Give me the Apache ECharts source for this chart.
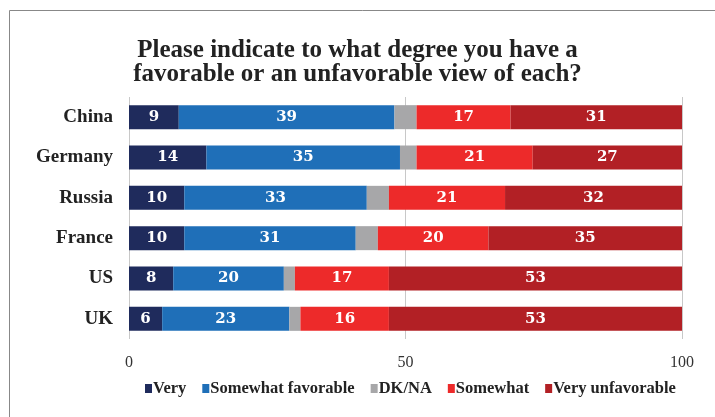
<!DOCTYPE html>
<html><head><meta charset="utf-8">
<script src="https://cdn.jsdelivr.net/npm/echarts@6/dist/echarts.min.js"></script>
<style>html,body{margin:0;padding:0;background:#fff}#c{width:715px;height:417px}</style>
</head><body><div id="c"></div>
<script>
const categories = ["China", "Germany", "Russia", "France", "US", "UK"];
const seriesNames = ["Very", "Somewhat favorable", "DK/NA", "Somewhat", "Very unfavorable"];
const veryFav = [9, 14, 10, 10, 8, 6];
const somewhatFav = [39, 35, 33, 31, 20, 23];
const dkna = [4, 3, 4, 4, 2, 2];
const somewhatUnfav = [17, 21, 21, 20, 17, 16];
const veryUnfav = [31, 27, 32, 35, 53, 53];
const colors = ["#1f2b5c", "#1f6fb8", "#a7a7a9", "#ed2a2a", "#b22025"];
const serif = "'Liberation Serif', 'DejaVu Serif', serif";
const wideSerif = "'DejaVu Serif', 'Liberation Serif', serif";

const values = [veryFav, somewhatFav, dkna, somewhatUnfav, veryUnfav];
const chart = echarts.init(document.getElementById('c'));
chart.setOption({
  animation: false,
  title: {
    text: "Please indicate to what degree you have a\nfavorable or an unfavorable view of each?",
    left: 'center', top: 34,
    textStyle: { fontFamily: serif, fontWeight: 'bold', fontSize: 25, lineHeight: 24, color: '#222' }
  },
  legend: {
    top: 375, left: 140,
    itemWidth: 7, itemHeight: 9, itemGap: 16,
    icon: 'rect',
    textStyle: { fontFamily: serif, fontWeight: 'bold', fontSize: 16.5, color: '#222', padding: [0,0,0,-4] },
    data: seriesNames
  },
  grid: { left: 129, right: 33, top: 97, bottom: 78 },
  xAxis: {
    type: 'value', min: 0, max: 100, interval: 50,
    axisLine: { show: false }, axisTick: { show: false },
    splitLine: { lineStyle: { color: '#c8c8c8', width: 1 } },
    axisLabel: { fontFamily: serif, fontSize: 16, color: '#333', margin: 16 }
  },
  yAxis: {
    type: 'category', data: categories, inverse: true,
    axisLine: { show: false }, axisTick: { show: false },
    axisLabel: { fontFamily: serif, fontWeight: 'bold', fontSize: 19, color: '#222', margin: 16 }
  },
  graphic: [{
    type: 'rect', shape: { x: 9.5, y: 10.5, width: 800, height: 500 },
    style: { fill: 'none', stroke: '#888', lineWidth: 1 }, silent: true
  }],
  series: seriesNames.map((name, i) => ({
    name, type: 'bar', stack: 'all', data: values[i],
    barWidth: 24,
    itemStyle: { color: colors[i] },
    label: {
      show: i !== 2, position: 'inside', color: '#fff',
      fontFamily: wideSerif, fontWeight: 'bold', fontSize: 15
    }
  }))
});
</script></body></html>
